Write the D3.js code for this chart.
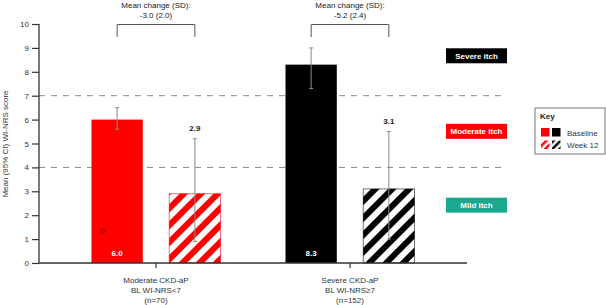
<!DOCTYPE html>
<html><head><meta charset="utf-8">
<script src="https://cdn.jsdelivr.net/npm/d3@7"></script>
<style>body{margin:0;background:#fff}svg{font-family:"Liberation Sans",Arial,sans-serif}</style>
</head><body><svg id="c" width="606" height="305"></svg>
<script>
const groups = ["Moderate", "Severe"];
const groupLabels = [["Moderate CKD-aP","BL WI-NRS<7","(n=70)"],["Severe CKD-aP","BL WI-NRS\u22657","(n=152)"]];
const series = ["Baseline", "Week 12"];
const baselineVals = [6.0, 8.3];
const week12Vals = [2.9, 3.1];
const baselineLow = [5.6, 7.3];
const baselineHigh = [6.5, 9.0];
const week12Low = [0.9, 1.0];
const week12High = [5.2, 5.5];
const changeText = [["Mean change (SD):","-3.0 (2.0)"],["Mean change (SD):","-5.2 (2.4)"]];
const yTicks = [0,1,2,3,4,5,6,7,8,9,10];
const thresholds = [7, 4];
const itchLabels = [{t:"Severe itch", v:8.67, c:"#000"},{t:"Moderate itch", v:5.51, c:"#ff0000"},{t:"Mild itch", v:2.42, c:"#1aa98e"}];
const groupColors = ["#ff0000", "#000000"];

const svg = d3.select("#c");
const y = d3.scaleLinear().domain([0,10]).range([263,24]);
const x0 = d3.scaleBand().domain(groups).range([39,467]).paddingInner(0).paddingOuter(0.103);
const x1 = d3.scaleBand().domain(series).range([0,x0.bandwidth()]).paddingInner(0.34).paddingOuter(0.418);

// patterns
const defs = svg.append("defs");
groupColors.forEach((c,i)=>{
  const p = defs.append("pattern").attr("id","h"+i).attr("patternUnits","userSpaceOnUse")
    .attr("width",12).attr("height",12).attr("patternTransform","rotate(45)");
  p.append("rect").attr("width",12).attr("height",12).attr("fill","#fff");
  p.append("rect").attr("width",6).attr("height",12).attr("fill",c);
});
groupColors.forEach((c,i)=>{
  const p = defs.append("pattern").attr("id","hs"+i).attr("patternUnits","userSpaceOnUse")
    .attr("width",5).attr("height",5).attr("patternTransform","rotate(45)");
  p.append("rect").attr("width",5).attr("height",5).attr("fill","#fff");
  p.append("rect").attr("width",2.5).attr("height",5).attr("fill",c);
});

// dashed thresholds
svg.selectAll(".th").data(thresholds).join("line")
  .attr("x1",39).attr("x2",507).attr("y1",d=>y(d)).attr("y2",d=>y(d))
  .attr("stroke","#888").attr("stroke-width",1).attr("stroke-dasharray","6,6");

// bars
const data = groups.map((g,i)=>[
  {g, s:series[0], v:baselineVals[i], lo:baselineLow[i], hi:baselineHigh[i], i},
  {g, s:series[1], v:week12Vals[i], lo:week12Low[i], hi:week12High[i], i}
]).flat();

svg.selectAll(".bar").data(data).join("rect")
  .attr("x",d=>x0(d.g)+x1(d.s)).attr("width",x1.bandwidth())
  .attr("y",d=>y(d.v)).attr("height",d=>y(0)-y(d.v))
  .attr("fill",d=>d.s===series[0]?groupColors[d.i]:`url(#h${d.i})`)
  .attr("stroke",d=>d.s===series[0]?"none":groupColors[d.i]).attr("stroke-width",0.8)
  .attr("stroke-opacity",0.7);

// error bars
const cx = d=>x0(d.g)+x1(d.s)+x1.bandwidth()/2;
const eb = svg.selectAll(".eb").data(data).join("g").attr("stroke","#8a8a8a").attr("stroke-width",1);
eb.append("line").attr("x1",cx).attr("x2",cx).attr("y1",d=>y(d.lo)).attr("y2",d=>y(d.hi));
eb.append("line").attr("x1",d=>cx(d)-2).attr("x2",d=>cx(d)+2).attr("y1",d=>y(d.lo)).attr("y2",d=>y(d.lo));
eb.append("line").attr("x1",d=>cx(d)-2).attr("x2",d=>cx(d)+2).attr("y1",d=>y(d.hi)).attr("y2",d=>y(d.hi));

// value labels
svg.selectAll(".vl").data(data).join("text")
  .attr("x",cx)
  .attr("y",d=>d.s===series[0]?y(0)-7:y(d.hi)-8)
  .attr("text-anchor","middle").attr("font-size",8).attr("font-weight","bold")
  .attr("fill",d=>d.s===series[0]?"#fff":"#222")
  .text(d=>d.v.toFixed(1));
// stray "0" label
svg.append("text").attr("x",x0(groups[0])+x1(series[0])+11).attr("y",y(1.2))
  .attr("text-anchor","middle").attr("font-size",8).attr("fill","#6a0000").text("0");

// brackets
groups.forEach((g,i)=>{
  const a = x0(g)+x1(series[0])+x1.bandwidth()/2, b = x0(g)+x1(series[1])+x1.bandwidth()/2;
  svg.append("path").attr("d",`M${a},37V24.5H${b}V37`).attr("fill","none").attr("stroke","#555").attr("stroke-width",1);
  const m = x0(g)+x0.bandwidth()/2;
  changeText[i].forEach((t,k)=>svg.append("text").attr("x",m).attr("y",8+k*10)
    .attr("text-anchor","middle").attr("font-size",8).attr("fill","#222").text(t));
});

// axes
const ya = svg.append("g").attr("transform","translate(39,0)")
  .call(d3.axisLeft(y).tickValues(yTicks).tickSize(7).tickPadding(3).tickFormat(d3.format("d")));
ya.select(".domain").attr("stroke","#333").attr("stroke-width",1.3).attr("d","M0,24V263");
ya.selectAll(".tick line").attr("stroke","#333").attr("stroke-width",1.2);
ya.selectAll("text").attr("font-size",8).attr("fill","#333").attr("font-family","Liberation Sans, Arial");

const xa = svg.append("g").attr("transform","translate(0,263)")
  .call(d3.axisBottom(x0).tickSize(5).tickFormat(""));
xa.select(".domain").attr("stroke","#333").attr("stroke-width",1.3).attr("d","M39,0H467");
xa.selectAll(".tick line").attr("stroke","#333").attr("stroke-width",1.2);
groups.forEach((g,i)=>{
  groupLabels[i].forEach((t,k)=>svg.append("text").attr("x",x0(g)+x0.bandwidth()/2).attr("y",283+k*10)
    .attr("text-anchor","middle").attr("font-size",8).attr("fill","#333").text(t));
});

// y title
svg.append("text").attr("transform",`translate(8,144) rotate(-90)`)
  .attr("text-anchor","middle").attr("font-size",8).attr("fill","#333").text("Mean (95% CI) WI-NRS score");

// itch labels
const il = svg.selectAll(".il").data(itchLabels).join("g").attr("transform",d=>`translate(446,${y(d.v)-7.5})`);
il.append("rect").attr("width",61).attr("height",15).attr("fill",d=>d.c);
il.append("text").attr("x",30.5).attr("y",10.5).attr("text-anchor","middle").attr("font-size",8)
  .attr("font-weight","bold").attr("fill","#fff").text(d=>d.t);

// key
const k = svg.append("g").attr("transform","translate(535,108)");
k.append("rect").attr("width",70).attr("height",46).attr("fill","#fff").attr("stroke","#777").attr("stroke-width",1);
k.append("text").attr("x",5).attr("y",11).attr("font-size",8).attr("font-weight","bold").attr("fill","#222").text("Key");
series.forEach((s,r)=>{
  groupColors.forEach((c,j)=>{
    k.append("rect").attr("x",6+j*11).attr("y",20+r*12.5).attr("width",8.5).attr("height",8.5)
      .attr("fill",r===0?c:`url(#hs${j})`);
  });
  k.append("text").attr("x",32).attr("y",27.5+r*12.5).attr("font-size",8).attr("fill","#333").text(s);
});
</script></body></html>
